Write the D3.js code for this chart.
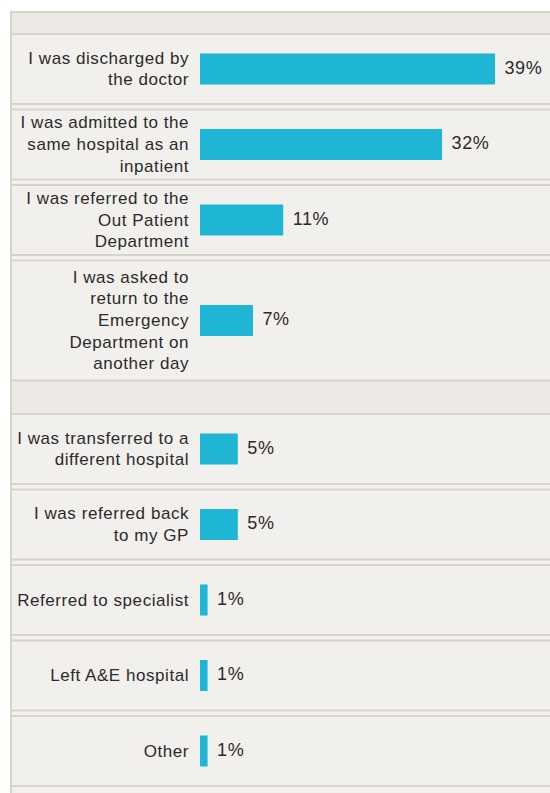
<!DOCTYPE html>
<html>
<head>
<meta charset="utf-8">
<script src="https://cdn.jsdelivr.net/npm/d3@7"></script>
<style>
  html, body { margin: 0; padding: 0; background: #ffffff; }
  svg { display: block; }
  text { font-family: "Liberation Sans", Arial, Helvetica, sans-serif; fill: #2b2b2b; }
</style>
</head>
<body>
<svg id="chart" width="550" height="793"></svg>
<script>
// Outcome of the A&E visit, in two groups separated by a spacer row
const categoriesA = [
  "I was discharged by\nthe doctor",
  "I was admitted to the\nsame hospital as an\ninpatient",
  "I was referred to the\nOut Patient\nDepartment",
  "I was asked to\nreturn to the\nEmergency\nDepartment on\nanother day"
];
const valuesA = [39, 32, 11, 7];

const categoriesB = [
  "I was transferred to a\ndifferent hospital",
  "I was referred back\nto my GP",
  "Referred to specialist",
  "Left A&E hospital",
  "Other"
];
const valuesB = [5, 5, 1, 1, 1];

const W = 550, H = 793;
const frameLeft = 11, frameTop = 12;
const headerH = 22, spacerH = 33.5;
const rowGap = 5.5, lineH = 21.7, minRowH = 70, extraLineH = 25;
const barH = 31;
const labelRight = 189, barLeft = 200;

const svg = d3.select("#chart");

// build row list: header spacer, group A, spacer, group B
const rows = [];
rows.push({ kind: "blank", h: headerH });
categoriesA.forEach((c, i) => rows.push({ kind: "data", label: c, value: valuesA[i] }));
rows.push({ kind: "blank", h: spacerH });
categoriesB.forEach((c, i) => rows.push({ kind: "data", label: c, value: valuesB[i] }));

let y = frameTop;
rows.forEach((r, i) => {
  if (r.kind === "data") {
    const n = r.label.split("\n").length;
    // rows hold up to three label lines; taller labels grow the row
    r.h = minRowH + Math.max(0, n - 3) * extraLineH;
    const prev = rows[i - 1];
    if (prev && prev.kind === "data") y += rowGap;
  }
  r.y0 = y;
  r.y1 = y + r.h;
  y = r.y1;
});

const x = d3.scaleLinear().domain([0, 39]).range([barLeft, 495]);

// plot background
svg.append("rect")
  .attr("x", frameLeft).attr("y", frameTop)
  .attr("width", W - frameLeft).attr("height", H - frameTop)
  .attr("fill", "#f2f0ed");

// spacer rows are shaded slightly darker
svg.selectAll("rect.blank")
  .data(rows.filter(r => r.kind === "blank"))
  .join("rect")
  .attr("class", "blank")
  .attr("x", frameLeft).attr("y", d => d.y0)
  .attr("width", W - frameLeft).attr("height", d => d.h)
  .attr("fill", "#edeae6");

// row rules (top and bottom of every row)
const rules = [];
rows.forEach(r => { rules.push(r.y0); rules.push(r.y1); });
svg.selectAll("line.rule")
  .data(Array.from(new Set(rules)))
  .join("line")
  .attr("class", "rule")
  .attr("x1", frameLeft).attr("x2", W)
  .attr("y1", d => d).attr("y2", d => d)
  .attr("stroke", "#d8d3cc")
  .attr("stroke-width", 2);

// left frame edge
svg.append("line")
  .attr("x1", frameLeft).attr("x2", frameLeft)
  .attr("y1", frameTop - 1).attr("y2", H)
  .attr("stroke", "#d8d3cc")
  .attr("stroke-width", 2);

const dataRows = rows.filter(r => r.kind === "data");

// bars
svg.selectAll("rect.bar")
  .data(dataRows)
  .join("rect")
  .attr("class", "bar")
  .attr("x", x(0))
  .attr("y", d => (d.y0 + d.y1) / 2 - barH / 2)
  .attr("width", d => x(d.value) - x(0))
  .attr("height", barH)
  .attr("fill", "#1eb6d4");

// value labels
svg.selectAll("text.val")
  .data(dataRows)
  .join("text")
  .attr("class", "val")
  .attr("x", d => x(d.value) + 9.5)
  .attr("y", d => (d.y0 + d.y1) / 2 + 4.5)
  .attr("font-size", 18)
  .attr("letter-spacing", 0.6)
  .text(d => d.value + "%");

// category labels, right aligned, multi-line
const labels = svg.selectAll("text.cat")
  .data(dataRows)
  .join("text")
  .attr("class", "cat")
  .attr("text-anchor", "end")
  .attr("font-size", 17)
  .attr("letter-spacing", 0.55);

labels.each(function (d) {
  const lines = d.label.split("\n");
  const cy = (d.y0 + d.y1) / 2;
  d3.select(this).selectAll("tspan")
    .data(lines)
    .join("tspan")
    .attr("x", labelRight)
    .attr("y", (l, i) => cy + (i - (lines.length - 1) / 2) * lineH + 5.5)
    .text(l => l);
});
</script>
</body>
</html>
